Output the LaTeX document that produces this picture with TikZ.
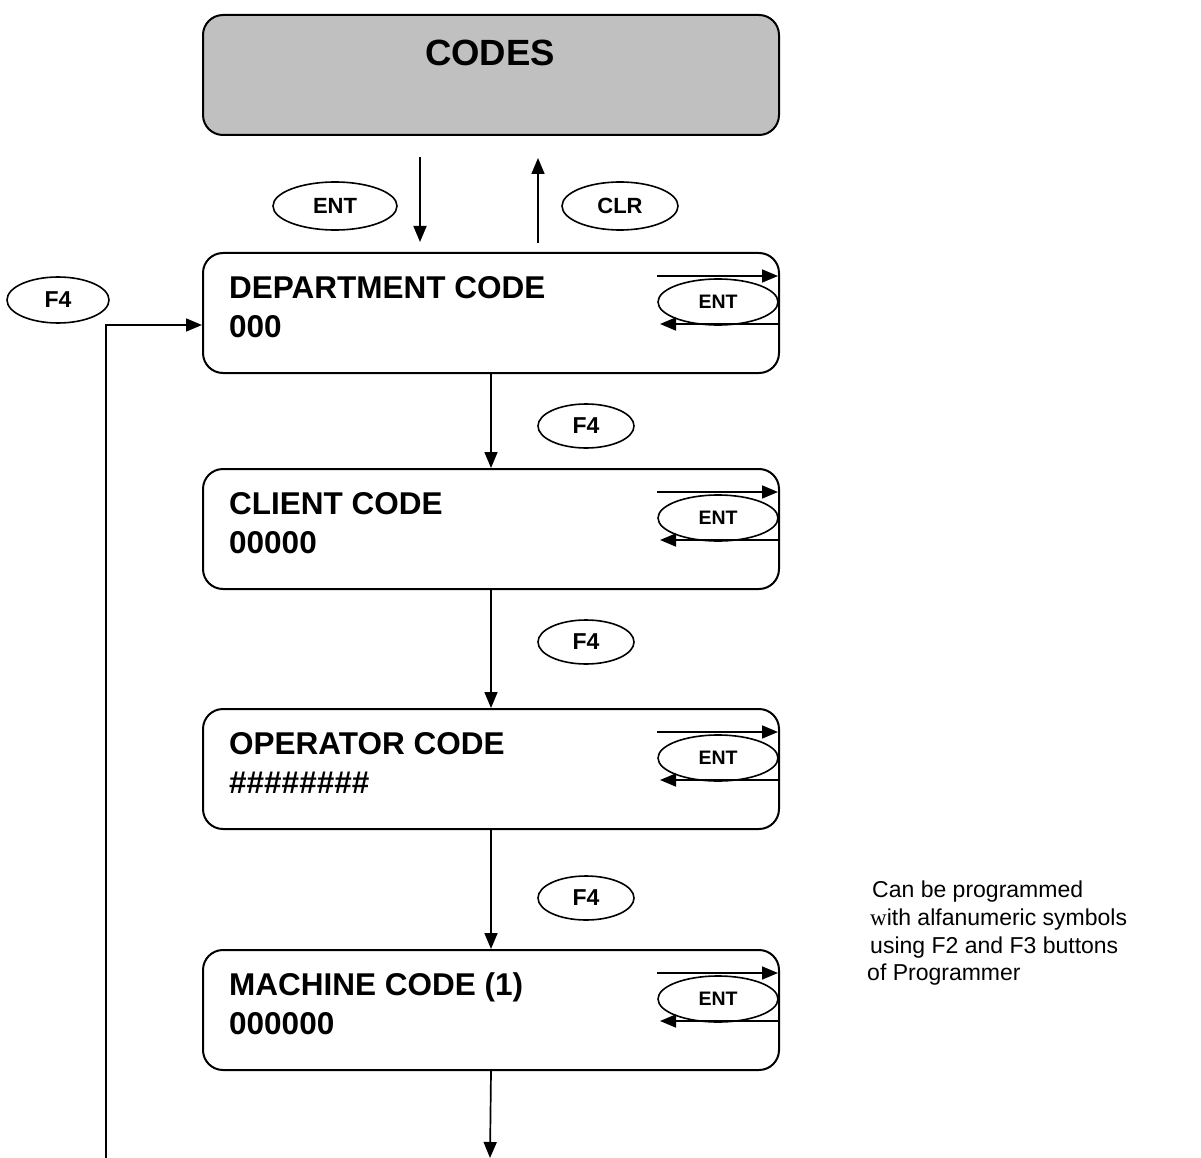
\documentclass[tikz,border=0pt]{standalone}
\usepackage{fontspec}
\setmainfont{Liberation Sans}
\newfontfamily\serifw{Liberation Serif}
\usetikzlibrary{shapes.geometric,arrows.meta}
\begin{document}
\begin{tikzpicture}[x=1pt,y=-1pt,
  box/.style={draw,line width=2pt,rounded corners=20pt,minimum width=576pt,minimum height=120pt,inner sep=0pt,anchor=north west},
  key/.style={draw,ellipse,line width=1.6pt,inner sep=0pt,font=\bfseries\fontsize{22}{22}\selectfont},
  smallkey/.style={key,minimum width=120pt,minimum height=46pt,font=\bfseries\fontsize{19.5}{19.5}\selectfont},
  f4key/.style={key,minimum width=96pt,minimum height=44pt,font=\bfseries\fontsize{23}{23}\selectfont},
  boxtext/.style={anchor=base west,inner sep=0pt,font=\bfseries\fontsize{31.5}{31.5}\selectfont},
  note/.style={anchor=base west,inner sep=0pt,font=\fontsize{23}{23}\selectfont},
  arr/.style={line width=1.7pt,-{Triangle[length=16pt,width=13pt]}}
]
\useasboundingbox (0,0) rectangle (1201,1158);

% top box
\node[box,fill={rgb,255:red,192;green,192;blue,192}] (codes) at (202,14) {};
\node[anchor=base,inner sep=0pt,font=\bfseries\fontsize{36.5}{36.5}\selectfont] (codest) at (490,66) {CODES};

\coordinate (entA) at (420,157);
\coordinate (entB) at (420,242);
\coordinate (clrA) at (538,243);
\coordinate (clrB) at (538,158);
\draw[arr] (entA) -- (entB);
\draw[arr] (clrA) -- (clrB);
\node[key,minimum width=124pt,minimum height=48pt] (kent) at (335,206) {ENT};
\node[key,minimum width=116pt,minimum height=48pt] (kclr) at (620,206) {CLR};

% boxes
\node[box] (dept) at (202,252) {};
\node[box] (client) at (202,468) {};
\node[box] (oper) at (202,708) {};
\node[box] (mach) at (202,949) {};

\node[boxtext] (t1a) at (229,298) {DEPARTMENT CODE};
\node[boxtext] (t1b) at (229,337) {000};
\node[boxtext] (t2a) at (229,514) {CLIENT CODE};
\node[boxtext] (t2b) at (229,553) {00000};
\node[boxtext] (t3a) at (229,754) {OPERATOR CODE};
\node[boxtext] (t3b) at (229,793) {\#\#\#\#\#\#\#\#};
\node[boxtext] (t4a) at (229,995) {MACHINE CODE (1)};
\node[boxtext] (t4b) at (229,1034) {000000};

% ENT loops
\foreach \n/\t in {d/252,c/468,o/708,m/949}{
  \coordinate (\n in) at (657,\t+24);
  \coordinate (\n r1) at (778,\t+24);
  \coordinate (\n r2) at (778,\t+72);
  \coordinate (\n out) at (660,\t+72);
  \draw[arr] (\n in) -- (\n r1);
  \draw[arr] (\n r2) -- (\n out);
  \node[smallkey] (\n ent) at (718,\t+50) {ENT};
}

% vertical flow
\coordinate (endb) at (490,1158);
\draw[arr] (dept.south) -- (client.north);
\draw[arr] (client.south) -- (oper.north);
\draw[arr] (oper.south) -- (mach.north);
\draw[arr] (mach.south) -- (endb);
\node[f4key] (f4a) at (586,426) {F4};
\node[f4key] (f4b) at (586,642) {F4};
\node[f4key] (f4c) at (586,898) {F4};

% left loop
\node[f4key,minimum width=102pt,minimum height=46pt] (f4l) at (58,300) {F4};
\coordinate (lb) at (106,1158);
\coordinate (lend) at (202,325);
\draw[arr] (lb) |- (lend);

% note
\node[note] (n1) at (872,897) {Can be programmed};
\node[note] (n2) at (870,925) {{\serifw w}ith alfanumeric symbols};
\node[note] (n3) at (870,953) {using F2 and F3 buttons};
\node[note] (n4) at (867,980) {of Programmer};
\end{tikzpicture}
\end{document}
